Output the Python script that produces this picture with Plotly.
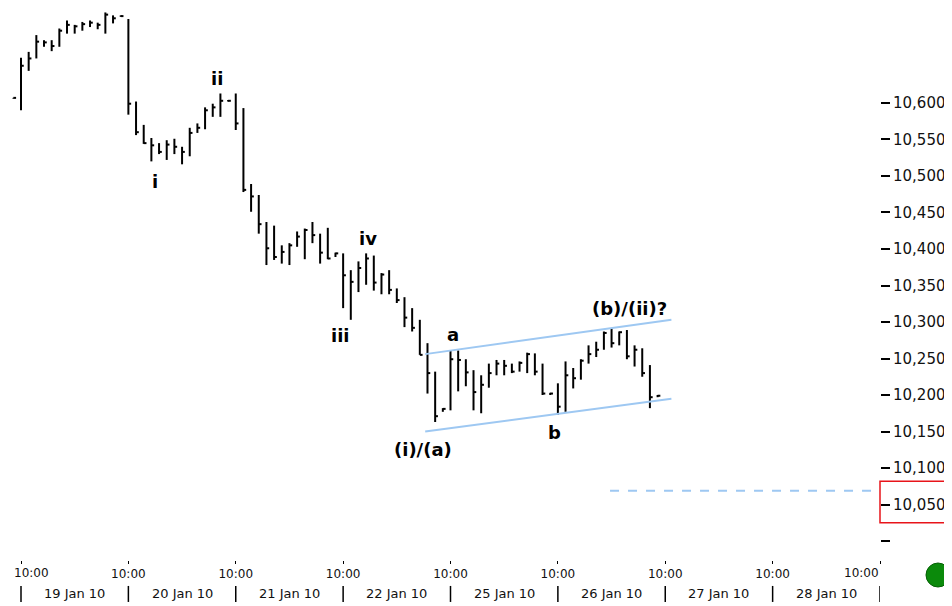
import plotly.graph_objects as go

# ---------------- data ----------------
bars_per_day = 14
day_labels = ["19 Jan 10", "20 Jan 10", "21 Jan 10", "22 Jan 10",
              "25 Jan 10", "26 Jan 10", "27 Jan 10", "28 Jan 10"]
session_open_label = "10:00"
first_bar_index = -1   # last bar of the previous session

highs = [10607,
         10662, 10670, 10693, 10686, 10686, 10702, 10713, 10707, 10711, 10713, 10710, 10724, 10720, 10720,
         10715, 10602, 10570, 10552, 10545, 10549, 10551, 10540, 10566, 10572, 10594, 10599, 10613, 10604,
         10613, 10593, 10489, 10474, 10437, 10432, 10405, 10408, 10424, 10428, 10437, 10421, 10429, 10395,
         10394, 10371, 10383, 10394, 10391, 10367, 10371, 10346, 10334, 10319, 10303, 10271, 10232, 10182,
         10261, 10261, 10249, 10234, 10227, 10243, 10248, 10248, 10243, 10246, 10258, 10257, 10243, 10203,
         10216, 10246, 10237, 10249, 10268, 10273, 10287, 10291, 10287, 10289, 10268, 10264, 10241, 10200]
lows = [10606,
        10590, 10644, 10661, 10677, 10671, 10677, 10695, 10695, 10699, 10704, 10701, 10695, 10709, 10718,
        10584, 10556, 10544, 10520, 10530, 10522, 10530, 10516, 10527, 10559, 10564, 10581, 10581, 10602,
        10563, 10478, 10451, 10421, 10378, 10385, 10380, 10378, 10403, 10386, 10408, 10380, 10386, 10389,
        10319, 10303, 10341, 10351, 10343, 10338, 10338, 10326, 10293, 10287, 10255, 10202, 10163, 10177,
        10179, 10205, 10212, 10179, 10175, 10210, 10227, 10227, 10230, 10232, 10230, 10227, 10200, 10200,
        10173, 10177, 10209, 10221, 10243, 10252, 10262, 10265, 10268, 10249, 10239, 10225, 10182, 10197]
closes = [10607,
          10651, 10661, 10684, 10683, 10678, 10699, 10707, 10705, 10708, 10710, 10707, 10721, 10716, 10719,
          10599, 10560, 10545, 10542, 10533, 10543, 10540, 10533, 10559, 10566, 10590, 10594, 10603, 10603,
          10572, 10481, 10472, 10434, 10401, 10389, 10396, 10405, 10417, 10426, 10419, 10395, 10387, 10394,
          10364, 10355, 10374, 10387, 10354, 10365, 10344, 10330, 10306, 10292, 10255, 10230, 10171, 10181,
          10249, 10248, 10231, 10204, 10214, 10230, 10243, 10240, 10232, 10244, 10256, 10232, 10202, 10202,
          10184, 10227, 10223, 10247, 10256, 10262, 10285, 10271, 10286, 10253, 10262, 10230, 10197, 10199]

y_tick_values = list(range(10000, 10601, 50))
y_tick_text = [""] + [f"{v:,}" for v in y_tick_values[1:]]

# Elliott wave labels: (text, bar index, price)
wave_labels = [("i", 17.5, 10492), ("ii", 25.5, 10634), ("iii", 41.7, 10281),
               ("iv", 45.2, 10415), ("a", 56.3, 10283), ("b", 69.5, 10148),
               ("(i)/(a)", 52.4, 10125), ("(b)/(ii)?", 79.4, 10319)]

# channel lines: (x0, y0, x1, y1) in bar index / price
channel_upper = (52.7, 10256, 84.8, 10303)
channel_lower = (52.7, 10150, 84.8, 10195)
alert_level = 10069
alert_start = 76.8

# ---------------- build bars ----------------
n = len(highs)
xs_idx = [first_bar_index + k for k in range(n)]
tick_w = 0.36
seg_x, seg_y = [], []
for xi, h, l, c in zip(xs_idx, highs, lows, closes):
    seg_x += [xi, xi, None, xi, xi + tick_w, None]
    seg_y += [l, h, None, c, c, None]

fig = go.Figure()
fig.add_trace(go.Scatter(x=seg_x, y=seg_y, mode="lines",
                         line=dict(color="black", width=2),
                         hoverinfo="skip", showlegend=False))

n_days = len(day_labels)
x_max = n_days * bars_per_day
day_starts = [d * bars_per_day for d in range(n_days + 1)]
light_blue = "#9ec8f2"

shapes = []
for (x0, y0, x1, y1) in (channel_upper, channel_lower):
    shapes.append(dict(type="line", xref="x", yref="y", x0=x0, y0=y0, x1=x1, y1=y1,
                       line=dict(color=light_blue, width=2)))
shapes.append(dict(type="line", xref="x", yref="y", x0=alert_start, x1=x_max,
                   y0=alert_level, y1=alert_level,
                   line=dict(color=light_blue, width=2, dash="dash")))
# day separators under the axis
for xs in day_starts:
    shapes.append(dict(type="line", xref="x", yref="paper", x0=xs, x1=xs,
                       y0=-0.047, y1=-0.076, line=dict(color="black", width=1.5)))
# red box around 10,050 label
shapes.append(dict(type="rect", xref="paper", yref="y", x0=1.0, x1=1.09,
                   y0=10025, y1=10082, line=dict(color="#e8141a", width=1.5)))
# green status dot
shapes.append(dict(type="circle", xref="paper", yref="paper", xsizemode="pixel",
                   ysizemode="pixel", xanchor=1.0665, yanchor=-0.0272,
                   x0=-12, x1=12, y0=-12, y1=12,
                   fillcolor="#0b8a0b", line=dict(color="#066006", width=1)))

annotations = []
for txt, xi, yv in wave_labels:
    annotations.append(dict(text="<b>" + txt + "</b>", x=xi, y=yv, xref="x", yref="y",
                            showarrow=False,
                            font=dict(family="DejaVu Sans", size=18, color="black"),
                            xanchor="center", yanchor="middle"))
for d, lab in enumerate(day_labels):
    annotations.append(dict(text=lab, x=d * bars_per_day + bars_per_day / 2, y=-0.0598,
                            xref="x", yref="paper", showarrow=False,
                            font=dict(family="DejaVu Sans", size=13, color="#111"),
                            xanchor="center", yanchor="middle"))
# first and last session labels are kept inside the plot width
axis_font = dict(family="DejaVu Sans", size=12, color="#111")
annotations.append(dict(text=session_open_label, x=day_starts[0], y=-0.0236, xref="x",
                        yref="paper", xanchor="left", yanchor="middle", xshift=-9,
                        showarrow=False, font=axis_font))
annotations.append(dict(text=session_open_label, x=day_starts[-1], y=-0.0236, xref="x",
                        yref="paper", xanchor="right", yanchor="middle", xshift=1,
                        showarrow=False, font=axis_font))
tick_text = [""] + [session_open_label] * (n_days - 1) + [""]

# page has an 8px body margin: figure sized so it ends at the window edge
fig.update_layout(
    width=944, height=598,
    margin=dict(l=0, r=72, t=0, b=46, autoexpand=False),
    plot_bgcolor="white", paper_bgcolor="white",
    showlegend=False,
    shapes=shapes, annotations=annotations,
    xaxis=dict(range=[-1.695, x_max], showgrid=False, zeroline=False, showline=False,
               tickmode="array", tickvals=day_starts, ticktext=tick_text,
               ticks="outside", ticklen=3, tickwidth=1, tickcolor="black",
               tickfont=axis_font),
    yaxis=dict(range=[9974, 10730.1], side="right", showgrid=False, zeroline=False,
               showline=False, tickmode="array", tickvals=y_tick_values,
               ticktext=y_tick_text, ticks="outside", ticklen=9, tickwidth=1.5,
               tickcolor="black",
               tickfont=dict(family="DejaVu Sans", size=15, color="#111")),
)

fig.write_html("out.html")
